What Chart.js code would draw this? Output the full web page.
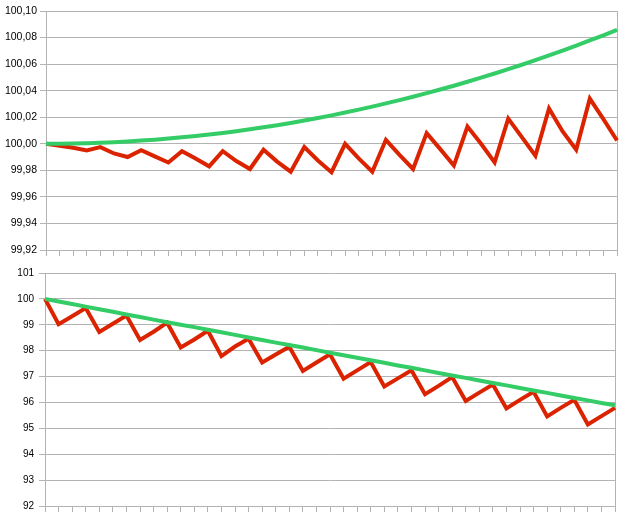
<!DOCTYPE html>
<html lang="en">

<head>
    <meta charset="UTF-8">
    <title>Two line charts</title>
    <script src="https://cdn.jsdelivr.net/npm/chart.js"></script>
    <style>
        body {
            margin: 0;
            background-color: #ffffff;
        }

        .wrap {
            position: relative;
            width: 626px;
            height: 520px;
        }

        #topChart {
            position: absolute;
            left: 0;
            top: 0;
        }

        #bottomChart {
            position: absolute;
            left: 0;
            top: 262px;
        }
    </style>
</head>

<body>
    <div class="wrap">
        <canvas id="topChart" width="626" height="262"></canvas>
        <canvas id="bottomChart" width="626" height="258"></canvas>
    </div>

    <script>
        // x steps (labels are not shown on the axis)
        const steps = [0, 1, 2, 3, 4, 5, 6, 7, 8, 9, 10, 11, 12, 13, 14, 15, 16, 17, 18, 19, 20,
            21, 22, 23, 24, 25, 26, 27, 28, 29, 30, 31, 32, 33, 34, 35, 36, 37, 38, 39, 40, 41, 42];

        // top chart
        const topGreen = [100.0000, 100.0001, 100.0002, 100.0004, 100.0008, 100.0012, 100.0017, 100.0024,
            100.0031, 100.0039, 100.0049, 100.0059, 100.0070, 100.0082, 100.0095, 100.0109, 100.0124,
            100.0140, 100.0157, 100.0175, 100.0194, 100.0214, 100.0235, 100.0257, 100.0280, 100.0304,
            100.0329, 100.0354, 100.0381, 100.0409, 100.0437, 100.0467, 100.0498, 100.0529, 100.0562,
            100.0595, 100.0630, 100.0665, 100.0702, 100.0739, 100.0778, 100.0817, 100.0857];
        const topRed = [100.0000, 99.9985, 99.9970, 99.9950, 99.9975, 99.9927, 99.9900, 99.9952,
            99.9905, 99.9859, 99.9944, 99.9889, 99.9830, 99.9944, 99.9870, 99.9810, 99.9955, 99.9866,
            99.9790, 99.9975, 99.9874, 99.9786, 100.0000, 99.9890, 99.9790, 100.0030, 99.9917, 99.9810,
            100.0080, 99.9960, 99.9836, 100.0130, 100.0000, 99.9860, 100.0190, 100.0050, 99.9910,
            100.0266, 100.0093, 99.9955, 100.0340, 100.0186, 100.0025];
        const topTicks = [99.92, 99.94, 99.96, 99.98, 100.00, 100.02, 100.04, 100.06, 100.08, 100.10];

        // bottom chart
        const bottomGreen = [100.00, 99.90, 99.80, 99.70, 99.60, 99.50, 99.40, 99.30, 99.20, 99.10,
            99.00, 98.91, 98.81, 98.71, 98.61, 98.51, 98.41, 98.31, 98.22, 98.12, 98.02, 97.92, 97.82,
            97.73, 97.63, 97.53, 97.43, 97.34, 97.24, 97.14, 97.04, 96.95, 96.85, 96.75, 96.66, 96.56,
            96.46, 96.37, 96.27, 96.17, 96.08, 95.98, 95.89];
        const bottomRed = [100.00, 99.02, 99.33, 99.65, 98.72, 99.04, 99.36, 98.41, 98.73, 99.08,
            98.12, 98.43, 98.77, 97.79, 98.16, 98.46, 97.54, 97.85, 98.15, 97.22, 97.54, 97.86, 96.92,
            97.24, 97.56, 96.62, 96.93, 97.24, 96.32, 96.64, 96.98, 96.06, 96.38, 96.69, 95.77, 96.10,
            96.41, 95.46, 95.79, 96.10, 95.15, 95.47, 95.79];
        const bottomTicks = [92, 93, 94, 95, 96, 97, 98, 99, 100, 101];

        const gridColor = '#b3b3b3';
        const greenColor = '#33cc66';
        const redColor = '#dc2300';

        function makeChart(canvasId, green, red, ticks, opts) {
            const ctx = document.getElementById(canvasId).getContext('2d');
            return new Chart(ctx, {
                type: 'line',
                data: {
                    labels: steps,
                    datasets: [
                        {
                            data: green,
                            borderColor: greenColor,
                            borderWidth: 4,
                            pointRadius: 0,
                            tension: 0,
                            fill: false
                        },
                        {
                            data: red,
                            borderColor: redColor,
                            borderWidth: 4,
                            pointRadius: 0,
                            tension: 0,
                            fill: false
                        }
                    ]
                },
                options: {
                    responsive: false,
                    animation: false,
                    layout: {
                        padding: { top: opts.top, right: opts.right, left: 0, bottom: 0 }
                    },
                    plugins: {
                        legend: { display: false },
                        tooltip: { enabled: false }
                    },
                    scales: {
                        x: {
                            type: 'category',
                            offset: false,
                            ticks: { display: false },
                            grid: {
                                // only the right-hand border line shows inside the plot
                                color: c => (c.index === steps.length - 1 ? gridColor : 'transparent'),
                                tickColor: gridColor,
                                tickLength: 6,
                                lineWidth: 1
                            },
                            border: { display: true, color: gridColor },
                            afterFit: scale => { scale.height = opts.xHeight; }
                        },
                        y: {
                            min: ticks[0],
                            max: ticks[ticks.length - 1],
                            afterBuildTicks: scale => {
                                scale.ticks = ticks.map(v => ({ value: v }));
                            },
                            ticks: {
                                color: '#000000',
                                padding: opts.labelPad,
                                font: { family: 'Liberation Sans, Arial, sans-serif', size: opts.fontSize },
                                callback: v => opts.format(v)
                            },
                            grid: {
                                color: gridColor,
                                tickLength: 6,
                                lineWidth: 1
                            },
                            border: { display: true, color: gridColor },
                            afterFit: scale => { scale.width = opts.yWidth; }
                        }
                    }
                }
            });
        }

        makeChart('topChart', topGreen, topRed, topTicks, {
            top: 11, right: 9, xHeight: 12, yWidth: 46, labelPad: 3, fontSize: 10.5,
            format: v => v.toFixed(2).replace('.', ',')
        });

        makeChart('bottomChart', bottomGreen, bottomRed, bottomTicks, {
            top: 11, right: 11, xHeight: 14, yWidth: 45, labelPad: 5, fontSize: 10,
            format: v => String(v)
        });
    </script>
</body>

</html>
